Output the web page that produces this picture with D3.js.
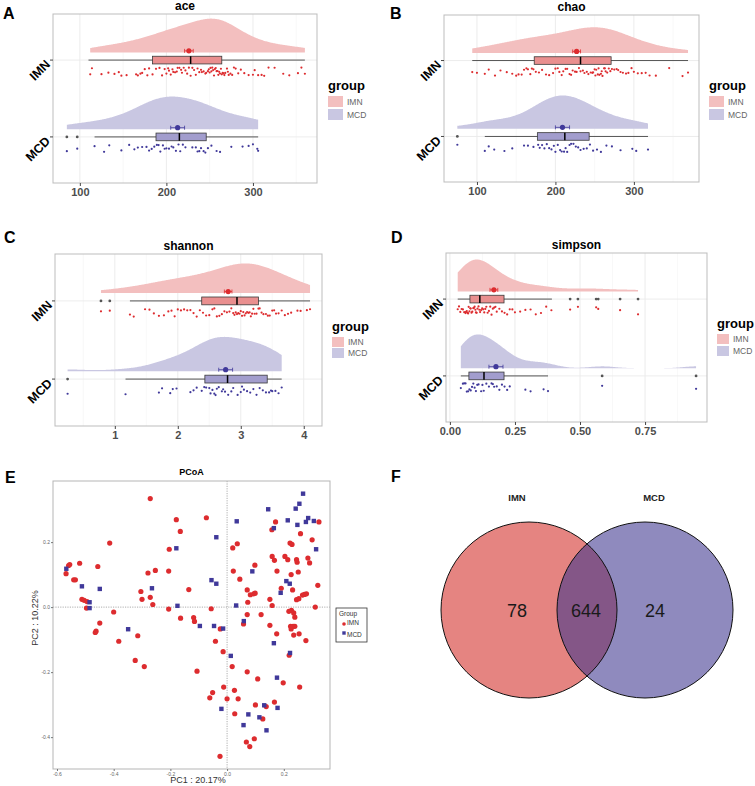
<!DOCTYPE html>
<html><head><meta charset="utf-8">
<script src="https://cdn.jsdelivr.net/npm/d3@7"></script>
<style>body{margin:0;background:#fff}svg{display:block}</style>
</head><body><svg id="c" width="755" height="786"></svg>
<script>
const groups = ["IMN", "MCD"];

const aceIMN = [112,114,125,133,140,145,148,154,165,167,170,172,175,178,180,184,188,192,195,198,200,202,203,205,207,208,210,212,213,215,217,218,220,222,224,226,228,230,232,234,236,238,240,241,243,245,246,248,249,250,251,252,253,254,255,256,257,258,259,260,261,262,263,264,265,266,267,268,270,271,272,274,276,278,280,283,286,290,295,300,302,306,310,313,318,325,335,342,352,356,360];
const aceMCD = [85,97,117,128,134,148,157,163,167,172,177,180,183,186,189,191,193,196,198,200,203,206,208,211,214,216,219,222,230,234,236,238,240,243,245,248,252,258,262,275,288,295,300,305,306];
const chaoIMN = [94,100,110,115,123,130,138,145,150,153,157,160,163,165,168,170,172,175,179,183,188,192,197,200,203,205,208,210,213,215,218,220,222,225,227,230,232,235,237,240,242,245,247,248,250,251,252,254,255,256,258,259,260,262,263,264,266,268,270,272,275,278,280,283,286,290,293,297,300,305,310,315,320,328,345,362,369];
const chaoMCD = [75,110,115,122,135,145,160,165,172,178,180,183,186,189,192,195,198,200,203,206,208,211,213,215,218,220,223,226,229,232,236,240,244,248,253,258,265,272,283,298,303,318];
const shannonIMN = [0.78,0.92,1.24,1.3,1.48,1.55,1.62,1.7,1.78,1.85,1.9,1.95,2.0,2.05,2.1,2.15,2.2,2.25,2.3,2.35,2.4,2.45,2.5,2.55,2.58,2.62,2.66,2.7,2.74,2.78,2.82,2.85,2.88,2.9,2.92,2.94,2.96,2.98,3.0,3.02,3.04,3.06,3.08,3.1,3.12,3.14,3.16,3.18,3.2,3.22,3.25,3.28,3.3,3.33,3.36,3.4,3.43,3.46,3.5,3.53,3.56,3.6,3.65,3.7,3.75,3.8,3.9,3.95,4.05,4.1];
const shannonMCD = [0.25,1.17,1.7,1.75,1.88,1.92,1.98,2.2,2.25,2.3,2.38,2.42,2.45,2.5,2.52,2.55,2.58,2.6,2.62,2.65,2.7,2.72,2.75,2.8,2.85,2.88,2.95,3.0,3.02,3.05,3.1,3.15,3.2,3.25,3.3,3.35,3.4,3.45,3.48,3.5,3.55,3.6,3.65];
const simpsonIMN = [0.03,0.035,0.04,0.045,0.05,0.055,0.06,0.062,0.065,0.068,0.07,0.072,0.075,0.078,0.08,0.083,0.086,0.09,0.092,0.095,0.098,0.1,0.103,0.106,0.11,0.113,0.116,0.12,0.124,0.128,0.132,0.136,0.14,0.145,0.15,0.155,0.16,0.165,0.17,0.175,0.18,0.19,0.2,0.21,0.22,0.23,0.24,0.25,0.27,0.29,0.31,0.33,0.35,0.37,0.39,0.462,0.492,0.562,0.57,0.654,0.723];
const simpsonMCD = [0.042,0.05,0.055,0.06,0.065,0.07,0.075,0.08,0.085,0.09,0.095,0.1,0.105,0.11,0.12,0.125,0.13,0.14,0.15,0.16,0.165,0.17,0.18,0.19,0.2,0.21,0.22,0.23,0.29,0.31,0.36,0.377,0.585,0.946];

// [whisker low, Q1, median, Q3, whisker high, mean, standard error]
const aceIMNStats = [110,184,228,264,360,226,5];
const aceMCDStats = [117,188,215,246,306,213,8];
const chaoIMNStats = [94,173,232,271,369,227,5];
const chaoMCDStats = [110,177,212,243,318,209,9];
const shannonIMNStats = [1.24,2.38,2.94,3.28,4.1,2.8,0.06];
const shannonMCDStats = [1.17,2.43,2.79,3.42,3.65,2.76,0.11];
const simpsonIMNStats = [0.03,0.077,0.115,0.208,0.392,0.169,0.015];
const simpsonMCDStats = [0.042,0.073,0.131,0.208,0.377,0.177,0.027];

const aceTicks = [100,200,300];
const chaoTicks = [100,200,300];
const shannonTicks = [1,2,3,4];
const simpsonTicks = [0,0.25,0.5,0.75];

const pcoaIMN_PC1 = [-0.568,-0.559,-0.555,-0.541,-0.535,-0.52,-0.512,-0.504,-0.494,-0.496,-0.456,-0.449,-0.462,-0.465,-0.414,-0.4,-0.382,-0.315,-0.324,-0.292,-0.304,-0.3,-0.279,-0.271,-0.262,-0.253,-0.271,-0.206,-0.206,-0.204,-0.179,-0.165,-0.164,-0.135,-0.118,-0.115,-0.106,-0.073,-0.056,-0.024,-0.041,-0.014,0.018,-0.012,0.0,-0.061,-0.051,-0.025,0.027,0.026,0.039,0.071,0.02,0.036,0.022,0.045,0.071,0.073,0.082,0.094,0.099,0.071,0.12,0.098,0.058,0.108,0.1,0.068,0.096,0.08,0.126,0.138,0.167,0.198,0.151,0.159,0.151,0.175,0.159,0.167,0.176,0.158,0.171,0.191,0.204,0.214,0.222,0.229,0.226,0.231,0.218,0.227,0.224,0.233,0.239,0.226,0.235,0.219,0.247,0.245,0.251,0.245,0.253,0.266,0.273,0.28,0.239,0.235,0.254,0.278,0.256,0.259,0.285,0.291,0.3,0.324,0.32,0.311];
const pcoaIMN_PC2 = [0.103,0.128,0.131,0.084,0.084,0.135,0.024,0.021,0.017,-0.003,0.125,-0.049,-0.074,-0.078,0.197,-0.015,-0.105,-0.088,-0.164,-0.183,0.048,0.024,0.105,0.03,0.008,0.113,0.334,0.111,-0.006,0.178,0.269,0.233,-0.034,0.054,-0.032,-0.044,-0.197,0.275,-0.005,-0.067,-0.105,-0.137,-0.183,-0.246,-0.282,-0.279,-0.263,-0.459,-0.328,-0.256,-0.282,-0.199,0.182,0.195,0.111,0.086,0.053,0.015,0.038,0.041,0.043,-0.023,-0.023,0.129,-0.052,-0.221,-0.301,-0.415,-0.405,-0.429,-0.344,-0.306,-0.292,-0.233,0.024,0.005,-0.056,-0.082,0.156,0.144,0.111,0.238,0.262,0.058,0.156,0.146,0.197,0.193,0.1,0.053,-0.013,-0.01,-0.059,-0.059,-0.059,-0.067,-0.086,-0.148,0.138,0.146,0.108,0.023,0.026,0.037,0.039,0.041,-0.031,-0.018,-0.082,-0.103,-0.246,0.226,0.151,0.136,0.207,0.262,0.067,0.0];
const pcoaMCD_PC1 = [-0.567,-0.512,-0.485,-0.485,-0.449,-0.349,-0.265,-0.179,-0.175,-0.096,-0.038,-0.055,-0.038,-0.046,-0.014,0.013,-0.02,0.034,0.032,0.089,0.059,0.075,0.058,0.114,0.131,0.139,0.178,0.176,0.165,0.145,0.165,0.189,0.209,0.214,0.221,0.222,0.248,0.242,0.255,0.268,0.278,0.286,0.306,0.314];
const pcoaMCD_PC2 = [0.118,0.064,0.015,-0.003,0.056,-0.068,0.058,0.181,0.004,-0.058,0.215,0.083,0.072,-0.058,-0.066,-0.15,-0.313,0.264,0.005,0.11,-0.043,-0.33,-0.363,-0.339,-0.302,-0.379,-0.31,-0.217,-0.111,0.301,0.243,0.044,0.08,0.267,0.072,-0.141,0.253,0.303,0.318,0.349,0.262,0.274,0.265,0.178];
const pcoaXTicks = [-0.6,-0.4,-0.2,0.0,0.2];
const pcoaYTicks = [-0.4,-0.2,0.0,0.2];
const pcoaAxisLabels = ["PC1 : 20.17%", "PC2 : 10.22%"];

const vennSets = ["IMN", "MCD"];
const vennCounts = [78, 644, 24]; // IMN only, shared, MCD only

// ---------- drawing ----------
const FONT = '"Liberation Sans", Arial, Helvetica, sans-serif';
const svg = d3.select("#c").attr("font-family", FONT);
const colDens = {IMN: "#F3BFBF", MCD: "#C9C7E2"};
const colBox = {IMN: "#E98F8F", MCD: "#A29DCD"};
const colPt = {IMN: "#DD2C2F", MCD: "#40399A"};

function kde(values, lo, hi, n, adjust) {
  const s = values.slice().sort(d3.ascending);
  const sd = d3.deviation(s);
  const iqr = d3.quantile(s, 0.75) - d3.quantile(s, 0.25);
  const bw = adjust * 0.9 * Math.min(sd, iqr / 1.34) * Math.pow(s.length, -0.2);
  const out = [];
  for (let i = 0; i < n; i++) {
    const x = lo + (hi - lo) * i / (n - 1);
    let d = 0;
    for (const v of s) { const u = (x - v) / bw; d += Math.exp(-0.5 * u * u); }
    out.push([x, d / (s.length * bw * Math.sqrt(2 * Math.PI))]);
  }
  return out;
}
// deterministic vertical jitter offset in [-1, 1] (position only)
const jit = i => { const s = Math.sin(i * 127.1 + 311.7) * 43758.5453; return 2 * (s - Math.floor(s)) - 1; };

function letter(t, x, y) {
  svg.append("text").attr("x", x).attr("y", y).text(t)
    .attr("font-size", 16).attr("font-weight", "bold").attr("fill", "#000");
}

function rain(p, pi) {
  const x = d3.scaleLinear().domain(p.domain).range([p.x0, p.x1]);
  const y = d3.scalePoint().domain(groups).range([p.y0, p.y1]).padding(0.6);
  const st = y.step();
  const g = svg.append("g");
  g.append("rect").attr("x", p.x0).attr("y", p.y0).attr("width", p.x1 - p.x0).attr("height", p.y1 - p.y0).attr("fill", "#fff");
  const minor = d3.range(p.ticks.length + 1).map(i => p.ticks[0] + (i - 0.5) * (p.ticks[1] - p.ticks[0]))
    .filter(v => v > p.domain[0] && v < p.domain[1]);
  minor.forEach(v => g.append("line").attr("x1", x(v)).attr("x2", x(v)).attr("y1", p.y0).attr("y2", p.y1)
    .attr("stroke", "#F3F3F3").attr("stroke-width", 0.6));
  p.ticks.forEach(v => g.append("line").attr("x1", x(v)).attr("x2", x(v)).attr("y1", p.y0).attr("y2", p.y1)
    .attr("stroke", "#EAEAEA").attr("stroke-width", 0.9));
  groups.forEach(gr => g.append("line").attr("x1", p.x0).attr("x2", p.x1).attr("y1", y(gr)).attr("y2", y(gr))
    .attr("stroke", "#EAEAEA").attr("stroke-width", 0.9));

  const data = {IMN: [p.imn, p.sI], MCD: [p.mcd, p.sM]};
  const dens = {};
  groups.forEach(gr => { const v = data[gr][0]; dens[gr] = kde(v, d3.min(v), d3.max(v), 256, 1.25); });
  const maxD = d3.max(groups, gr => d3.max(dens[gr], d => d[1]));
  const hs = 0.44 * st / maxD;
  groups.forEach(gr => {
    const base = y(gr) - 0.1 * st;
    const area = d3.area().x(d => x(d[0])).y0(base).y1(d => base - d[1] * hs);
    g.append("path").attr("d", area(dens[gr])).attr("fill", colDens[gr]);
  });
  groups.forEach((gr, gi) => {
    const [vals, s] = data[gr];
    const [lo, q1, med, q3, hi, mean, se] = s;
    const ry = y(gr), bh = 0.1 * st;
    g.append("line").attr("x1", x(lo)).attr("x2", x(hi)).attr("y1", ry).attr("y2", ry).attr("stroke", "#555").attr("stroke-width", 1);
    g.append("rect").attr("x", x(q1)).attr("y", ry - bh / 2).attr("width", x(q3) - x(q1)).attr("height", bh)
      .attr("fill", colBox[gr]).attr("stroke", "#3a3a3a").attr("stroke-width", 0.8);
    g.append("line").attr("x1", x(med)).attr("x2", x(med)).attr("y1", ry - bh / 2).attr("y2", ry + bh / 2).attr("stroke", "#000").attr("stroke-width", 1.5);
    vals.filter(v => v < lo || v > hi).forEach(v => g.append("circle").attr("cx", x(v)).attr("cy", ry).attr("r", 1.4).attr("fill", "#555"));
    const my = ry - 0.12 * st;
    g.append("line").attr("x1", x(mean - se)).attr("x2", x(mean + se)).attr("y1", my).attr("y2", my).attr("stroke", colPt[gr]).attr("stroke-width", 0.8);
    [mean - se, mean + se].forEach(v => g.append("line").attr("x1", x(v)).attr("x2", x(v)).attr("y1", my - 2).attr("y2", my + 2).attr("stroke", colPt[gr]).attr("stroke-width", 0.8));
    g.append("circle").attr("cx", x(mean)).attr("cy", my).attr("r", 2.6).attr("fill", colPt[gr]);
    g.selectAll(null).data(vals).join("circle")
      .attr("cx", d => x(d)).attr("cy", (d, i) => ry + st * (0.15 + 0.055 * jit(i + 200 * pi + 97 * gi)))
      .attr("r", 1.1).attr("fill", colPt[gr]);
  });
  g.append("rect").attr("x", p.x0).attr("y", p.y0).attr("width", p.x1 - p.x0).attr("height", p.y1 - p.y0)
    .attr("fill", "none").attr("stroke", "#BDBDBD").attr("stroke-width", 1);

  const xa = g.append("g").attr("transform", `translate(0,${p.y1})`)
    .call(d3.axisBottom(x).tickValues(p.ticks).tickFormat(p.fmt).tickSize(3).tickPadding(2));
  xa.select(".domain").remove();
  xa.selectAll("line").attr("stroke", "#444");
  xa.selectAll("text").attr("font-size", 11).attr("font-weight", "bold").attr("fill", "#4D4D4D").attr("font-family", FONT);
  groups.forEach(gr => {
    g.append("line").attr("x1", p.x0 - 3).attr("x2", p.x0).attr("y1", y(gr)).attr("y2", y(gr)).attr("stroke", "#444");
    g.append("text").text(gr).attr("text-anchor", "end")
      .attr("transform", `translate(${p.x0 - 2},${y(gr) + 5}) rotate(-45)`)
      .attr("font-size", 12.5).attr("font-weight", "bold").attr("fill", "#000");
  });
  g.append("text").attr("x", (p.x0 + p.x1) / 2).attr("y", p.y0 - 4).attr("text-anchor", "middle")
    .text(p.title).attr("font-size", 12).attr("font-weight", "bold");
  // legend
  g.append("text").attr("x", p.lx).attr("y", p.ly).text("group").attr("font-size", 13).attr("font-weight", "bold");
  groups.forEach((gr, i) => {
    g.append("rect").attr("x", p.lx).attr("y", p.lk[i]).attr("width", p.lw).attr("height", p.lh).attr("fill", colDens[gr]);
    g.append("text").attr("x", p.lx + p.lw + 4).attr("y", p.lk[i] + p.lh / 2 + 3).text(gr)
      .attr("font-size", 8.5).attr("fill", "#666");
  });
}

const panels = [
  {title: "ace", imn: aceIMN, mcd: aceMCD, sI: aceIMNStats, sM: aceMCDStats, ticks: aceTicks, fmt: d => d,
   x0: 53, x1: 317, y0: 14, y1: 183, domain: [69, 374], lx: 328, ly: 90, lk: [96, 109], lw: 15, lh: 11},
  {title: "chao", imn: chaoIMN, mcd: chaoMCD, sI: chaoIMNStats, sM: chaoMCDStats, ticks: chaoTicks, fmt: d => d,
   x0: 444, x1: 699, y0: 15, y1: 182, domain: [58, 383], lx: 709, ly: 90, lk: [96, 109], lw: 15, lh: 11},
  {title: "shannon", imn: shannonIMN, mcd: shannonMCD, sI: shannonIMNStats, sM: shannonMCDStats, ticks: shannonTicks, fmt: d => d,
   x0: 55, x1: 322, y0: 254, y1: 426, domain: [0.05, 4.29], lx: 332, ly: 331, lk: [337, 348], lw: 12, lh: 10},
  {title: "simpson", imn: simpsonIMN, mcd: simpsonMCD, sI: simpsonIMNStats, sM: simpsonMCDStats, ticks: simpsonTicks, fmt: d => d.toFixed(2),
   x0: 446, x1: 707, y0: 253, y1: 422, domain: [-0.015, 0.988], lx: 717, ly: 328, lk: [334, 346], lw: 12, lh: 10}
];
panels.forEach(rain);

letter("A", 3, 19); letter("B", 390, 19); letter("C", 4, 243); letter("D", 391, 243);
letter("E", 5, 483); letter("F", 391, 482);

// ---------- E: PCoA ----------
(function () {
  const x0 = 53, x1 = 330, y0 = 481, y1 = 769;
  const x = d3.scaleLinear().domain([-0.614, 0.363]).range([x0, x1]);
  const y = d3.scaleLinear().domain([-0.498, 0.388]).range([y1, y0]);
  const g = svg.append("g");
  g.append("rect").attr("x", x0).attr("y", y0).attr("width", x1 - x0).attr("height", y1 - y0).attr("fill", "#fff");
  g.append("line").attr("x1", x(0)).attr("x2", x(0)).attr("y1", y0).attr("y2", y1).attr("stroke", "#999").attr("stroke-width", 0.8).attr("stroke-dasharray", "1.2,1.2");
  g.append("line").attr("x1", x0).attr("x2", x1).attr("y1", y(0)).attr("y2", y(0)).attr("stroke", "#999").attr("stroke-width", 0.8).attr("stroke-dasharray", "1.2,1.2");
  const imn = pcoaIMN_PC1.map((v, i) => [v, pcoaIMN_PC2[i]]);
  const mcd = pcoaMCD_PC1.map((v, i) => [v, pcoaMCD_PC2[i]]);
  g.selectAll(null).data(imn).join("circle").attr("cx", d => x(d[0])).attr("cy", d => y(d[1])).attr("r", 2.6).attr("fill", colPt.IMN);
  g.selectAll(null).data(mcd).join("rect").attr("x", d => x(d[0]) - 2.2).attr("y", d => y(d[1]) - 2.2)
    .attr("width", 4.4).attr("height", 4.4).attr("fill", colPt.MCD);
  g.append("rect").attr("x", x0).attr("y", y0).attr("width", x1 - x0).attr("height", y1 - y0)
    .attr("fill", "none").attr("stroke", "#B5B5B5").attr("stroke-width", 1);
  const xa = g.append("g").attr("transform", `translate(0,${y1})`)
    .call(d3.axisBottom(x).tickValues(pcoaXTicks).tickFormat(d => d.toFixed(1)).tickSize(2).tickPadding(1));
  xa.select(".domain").remove();
  const ya = g.append("g").attr("transform", `translate(${x0},0)`)
    .call(d3.axisLeft(y).tickValues(pcoaYTicks).tickFormat(d => d.toFixed(1)).tickSize(2).tickPadding(1));
  ya.select(".domain").remove();
  [xa, ya].forEach(a => { a.selectAll("line").attr("stroke", "#777"); a.selectAll("text").attr("font-size", 5).attr("fill", "#666").attr("font-family", FONT); });
  g.append("text").attr("x", 198).attr("y", 783).attr("text-anchor", "middle").text(pcoaAxisLabels[0]).attr("font-size", 9).attr("fill", "#333");
  g.append("text").attr("transform", "translate(38,618) rotate(-90)").attr("text-anchor", "middle").text(pcoaAxisLabels[1]).attr("font-size", 9).attr("fill", "#333");
  g.append("text").attr("x", (x0 + x1) / 2).attr("y", 475).attr("text-anchor", "middle").text("PCoA").attr("font-size", 9).attr("font-weight", "bold");
  // legend
  g.append("rect").attr("x", 336).attr("y", 608).attr("width", 31).attr("height", 34).attr("fill", "#fff").attr("stroke", "#333").attr("stroke-width", 0.8);
  g.append("text").attr("x", 339).attr("y", 616).text("Group").attr("font-size", 6.5).attr("fill", "#333");
  g.append("circle").attr("cx", 344).attr("cy", 624).attr("r", 1.8).attr("fill", colPt.IMN);
  g.append("text").attr("x", 347).attr("y", 625).text("IMN").attr("font-size", 6.5).attr("fill", "#333");
  g.append("rect").attr("x", 342.3).attr("y", 631.3).attr("width", 3.4).attr("height", 3.4).attr("fill", colPt.MCD);
  g.append("text").attr("x", 347).attr("y", 637).text("MCD").attr("font-size", 6.5).attr("fill", "#333");
})();

// ---------- F: Venn ----------
(function () {
  const r = 88, cy = 610, cx = [529, 645];
  const g = svg.append("g");
  const defs = svg.append("defs");
  defs.append("clipPath").attr("id", "clipL").append("circle").attr("cx", cx[0]).attr("cy", cy).attr("r", r);
  g.append("circle").attr("cx", cx[0]).attr("cy", cy).attr("r", r).attr("fill", "#E58481");
  g.append("circle").attr("cx", cx[1]).attr("cy", cy).attr("r", r).attr("fill", "#8F8ABE");
  g.append("circle").attr("cx", cx[1]).attr("cy", cy).attr("r", r).attr("fill", "#845687").attr("clip-path", "url(#clipL)");
  cx.forEach(c => g.append("circle").attr("cx", c).attr("cy", cy).attr("r", r).attr("fill", "none").attr("stroke", "#111").attr("stroke-width", 1));
  g.append("text").attr("x", 517).attr("y", 501).attr("text-anchor", "middle").text(vennSets[0]).attr("font-size", 9.5).attr("font-weight", "bold").attr("fill", "#222");
  g.append("text").attr("x", 654).attr("y", 501).attr("text-anchor", "middle").text(vennSets[1]).attr("font-size", 9.5).attr("font-weight", "bold").attr("fill", "#222");
  [517, 586, 655].forEach((px, i) => g.append("text").attr("x", px).attr("y", 617).attr("text-anchor", "middle")
    .text(vennCounts[i]).attr("font-size", 18).attr("fill", "#1a1a1a"));
})();
</script>
</body></html>
